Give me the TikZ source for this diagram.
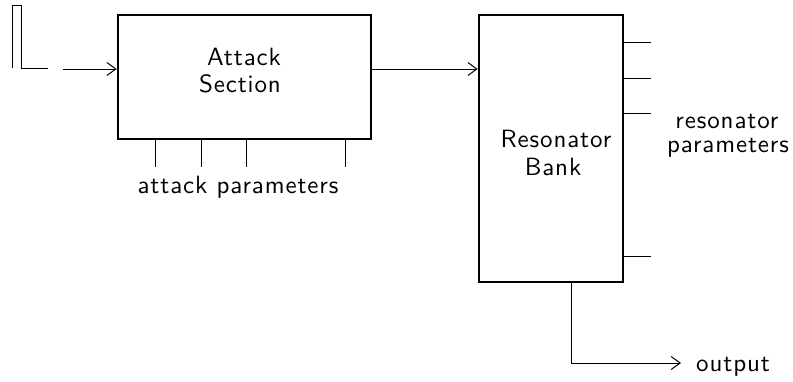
\documentclass[tikz,border=0pt]{standalone}
\usepackage{fontspec}
\newfontfamily\lblfont{lmsans10-regular.otf}[LetterSpace=3.5]
\usetikzlibrary{arrows.meta}
\begin{document}
\begin{tikzpicture}[x=1pt,y=-1pt,
  blk/.style={draw, line width=2.6pt, inner sep=0pt},
  thin/.style={line width=1pt},
  lbl/.style={font=\lblfont\fontsize{25}{28}\selectfont, inner sep=0pt},
  arr/.style={thin, -{Straight Barb[length=9pt,width=13pt]}}]
\useasboundingbox (0,0) rectangle (793,381);
% blocks
\node[blk, minimum width=253pt, minimum height=124pt] (att) at (244.5,77) {};
\node[blk, minimum width=144pt, minimum height=267pt] (res) at (551,148.5) {};
% block labels
\node[lbl, anchor=base] (attA) at (244,65) {Attack};
\node[lbl, anchor=base] (attB) at (240,92) {Section};
\node[lbl, anchor=base] (resA) at (556,147) {Resonator};
\node[lbl, anchor=base] (resB) at (553,175) {Bank};
% impulse
\draw[line width=0.8pt] (12,68) -- (12,5) -- (21,5) -- (21,68) -- (48,68);
% input arrow
\coordinate (in) at (63,69);
\draw[arr] (in) -- (in -| att.west);
% attack -> resonator
\coordinate (a1) at ([yshift=8pt]att.east);
\draw[arr] (a1) -- (a1 -| res.west);
% attack parameter ticks
\foreach \x/\n in {155/1,201/2,246/3,345/4}{
  \coordinate (t\n) at (\x,167);
  \draw[thin] (t\n |- att.south) -- (t\n);
}
\node[lbl, anchor=base] (apar) at (238,193) {attack parameters};
% resonator parameter ticks
\foreach \y/\n in {42/1,78/2,113/3,256/4}{
  \coordinate (r\n) at (651,\y);
  \draw[thin] (r\n -| res.east) -- (r\n);
}
\node[lbl, anchor=base] (rparA) at (727,128) {resonator};
\node[lbl, anchor=base] (rparB) at (728,152) {parameters};
% output
\coordinate (o1) at (571,363);
\coordinate (oend) at (681,363);
\draw[arr] (o1 |- res.south) -- (o1) -- (oend);
\node[lbl, anchor=base west] (out) at (696,371) {output};
\end{tikzpicture}
\end{document}
